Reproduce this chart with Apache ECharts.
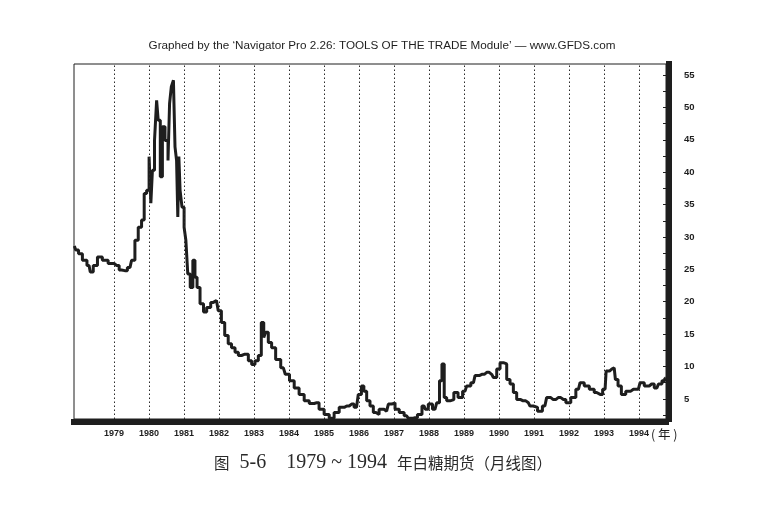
<!DOCTYPE html>
<html>
<head>
<meta charset="utf-8">
<script src="https://cdn.jsdelivr.net/npm/echarts@6/dist/echarts.min.js"></script>
<style>
html,body{margin:0;padding:0;background:#fff;}
#chart{width:776px;height:516px;}
</style>
</head>
<body>
<div id="chart"></div>
<script>
// Year boundary labels on the x axis
const yearLabels = [1979,1980,1981,1982,1983,1984,1985,1986,1987,1988,1989,1990,1991,1992,1993,1994];
// Price tick labels on the right axis
const priceTicks = [5,10,15,20,25,30,35,40,45,50,55];
const priceMinorTicks = [2.5,5,7.5,10,12.5,15,17.5,20,22.5,25,27.5,30,32.5,35,37.5,40,42.5,45,47.5,50,52.5,55];
// Time (decimal year) of each reading
const times = [
1977.87,1977.95,1978.03,1978.17,1978.29,1978.36,1978.46,1978.60,1978.74,1978.93,
1979.08,1979.22,1979.31,1979.46,1979.55,1979.65,1979.74,1979.84,1979.89,1979.98,
1980.03,1980.08,1980.12,1980.20,1980.24,1980.29,1980.36,1980.41,1980.51,1980.58,
1980.60,1980.68,1980.72,1980.77,1980.81,1980.84,1980.87,1980.91,1980.98,
1981.03,1981.08,1981.14,1981.22,1981.29,1981.34,1981.41,1981.51,1981.61,1981.69,1981.84,1981.93,
1982.03,1982.11,1982.22,1982.31,1982.41,1982.51,1982.60,1982.69,1982.79,1982.89,1982.98,
1983.08,1983.17,1983.25,1983.31,1983.36,1983.46,1983.55,1983.69,1983.84,1983.95,
1984.08,1984.22,1984.36,1984.51,1984.65,1984.79,1984.93,
1985.08,1985.22,1985.36,1985.51,1985.65,1985.79,1985.93,
1986.03,1986.11,1986.17,1986.27,1986.36,1986.46,1986.51,1986.64,1986.79,1986.89,1986.98,
1987.08,1987.22,1987.36,1987.46,1987.60,1987.74,1987.86,1987.93,
1988.03,1988.17,1988.27,1988.33,1988.41,1988.46,1988.55,1988.65,1988.77,1988.89,
1989.03,1989.12,1989.27,1989.36,1989.51,1989.65,1989.79,1989.89,1989.98,
1990.08,1990.17,1990.27,1990.36,1990.46,1990.55,1990.69,1990.84,1990.93,
1991.03,1991.17,1991.31,1991.41,1991.55,1991.69,1991.84,1991.98,
1992.12,1992.27,1992.36,1992.51,1992.65,1992.79,1992.89,
1993.03,1993.09,1993.22,1993.29,1993.36,1993.44,1993.55,1993.69,1993.84,1993.98,
1994.08,1994.22,1994.36,1994.51,1994.60,1994.71,1994.76
];
// Sugar futures price (continuation)
const prices = [
28.6,28.0,27.4,26.4,25.6,24.6,25.6,26.9,26.4,25.9,
25.6,24.9,24.8,25.3,26.4,29.5,31.5,32.6,36.7,37.2,
42.4,35.2,40.3,44.9,51.1,48.0,39.3,47.0,44.9,41.8,
50.6,53.2,54.2,43.9,41.8,33.1,42.4,37.2,34.6,
31.5,29.5,24.3,22.2,26.4,23.8,22.2,19.7,18.4,19.1,19.9,20.2,
18.6,16.8,14.8,13.5,12.9,12.2,11.7,11.9,11.9,10.9,10.3,
10.9,11.7,16.8,14.5,15.3,13.7,12.9,11.1,9.8,8.8,
7.8,6.7,5.7,4.7,4.3,4.4,3.4,
2.6,2.0,2.9,3.7,3.9,4.2,3.7,
5.7,7.0,6.2,4.7,3.9,2.9,2.6,3.4,3.1,4.2,4.4,
3.4,2.9,2.4,2.0,2.1,2.6,3.9,3.4,
4.2,3.4,4.4,7.8,10.4,5.2,4.7,4.9,6.0,5.2,
6.2,7.0,7.5,8.6,8.8,9.1,8.8,8.3,9.6,
10.6,10.4,8.0,7.3,6.0,4.9,4.7,4.4,3.9,
3.7,3.1,3.9,5.2,4.9,5.2,4.9,4.4,
5.2,6.5,7.5,7.0,6.5,6.0,5.7,
6.5,9.3,9.6,9.8,8.0,7.0,5.7,6.2,6.5,6.5,
7.5,7.0,7.3,6.7,7.3,7.8,8.2
];

const seriesData = times.map((t, i) => [t, prices[i]]);
const ink = '#1e1e1e';

const chart = echarts.init(document.getElementById('chart'), null, {renderer: 'canvas'});
chart.setOption({
  animation: false,
  backgroundColor: '#ffffff',
  grid: {
    left: 74, right: 110, top: 64, bottom: 97,
    show: true, borderColor: ink, borderWidth: 1, backgroundColor: 'transparent'
  },
  xAxis: {
    type: 'value',
    min: 1977.86,
    max: 1994.77,
    offset: 3,
    axisLine: {show: true, onZero: false, lineStyle: {color: ink, width: 6, cap: 'square'}},
    axisTick: {show: false},
    splitLine: {show: false},
    axisLabel: {
      customValues: yearLabels,
      formatter: v => String(Math.round(v)),
      margin: 7,
      color: ink,
      fontFamily: 'Liberation Sans, Arial, sans-serif',
      fontWeight: 'bold',
      fontSize: 9
    }
  },
  yAxis: {
    type: 'value',
    position: 'right',
    min: 1.9,
    max: 56.7,
    offset: 3,
    axisLine: {show: true, onZero: false, lineStyle: {color: ink, width: 6, cap: 'square'}},
    axisTick: {show: true, inside: true, length: 6, customValues: priceMinorTicks, lineStyle: {color: ink, width: 1}},
    splitLine: {show: false},
    axisLabel: {
      customValues: priceTicks,
      margin: 15,
      color: ink,
      fontFamily: 'Liberation Sans, Arial, sans-serif',
      fontWeight: 'bold',
      fontSize: 9.5
    }
  },
  series: [{
    type: 'line',
    data: seriesData,
    step: 'middle',
    showSymbol: false,
    symbol: 'none',
    lineStyle: {color: ink, width: 3, join: 'bevel'},
    markLine: {
      silent: true,
      symbol: ['none', 'none'],
      label: {show: false},
      lineStyle: {color: '#2a2a2a', type: [1.5, 2.5], width: 1},
      data: yearLabels.map(y => ({xAxis: y}))
    },
    z: 3
  }],
  graphic: [
    {
      type: 'text', x: 382, y: 46,
      style: {
        text: 'Graphed by the \u2018Navigator Pro 2.26: TOOLS OF THE TRADE Module\u2019 \u2014 www.GFDS.com',
        fill: ink, font: '11.7px "Liberation Sans", Arial, sans-serif',
        textAlign: 'center', textVerticalAlign: 'middle'
      }
    },
    {
      type: 'text', x: 651, y: 434,
      style: {
        text: '( 年 )',
        fill: ink, font: '12.5px "Noto Sans CJK SC", sans-serif',
        textAlign: 'left', textVerticalAlign: 'middle'
      }
    },
    {
      type: 'text', x: 214, y: 463,
      style: {
        text: '{c|图}{l|  5-6    1979 ~ 1994  }{c|年白糖期货（月线图）}',
        textAlign: 'left', textVerticalAlign: 'middle',
        rich: {
          c: {fill: '#2a2a2a', font: '15.5px "Noto Sans CJK SC", serif'},
          l: {fill: '#2a2a2a', font: '20px "Liberation Serif", serif'}
        }
      }
    }
  ]
});
</script>
</body>
</html>
